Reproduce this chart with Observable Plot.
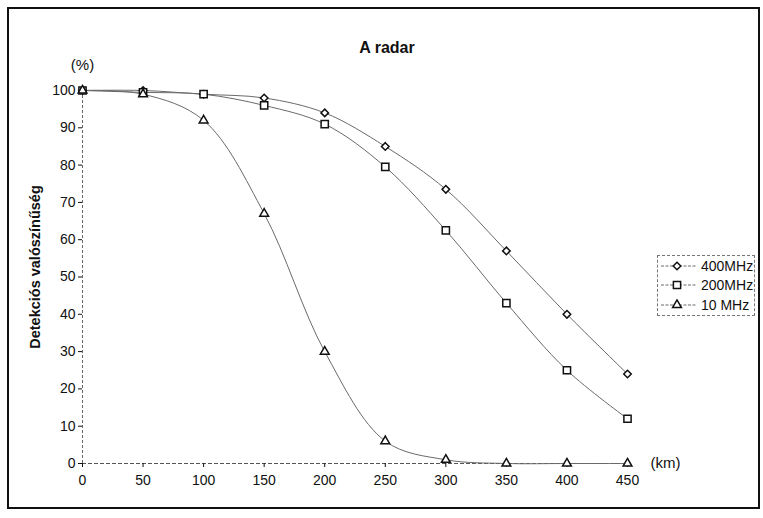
<!DOCTYPE html>
<html>
<head>
<meta charset="utf-8">
<script src="https://cdn.jsdelivr.net/npm/d3@7"></script>
<script src="https://cdn.jsdelivr.net/npm/@observablehq/plot@0.6"></script>
<style>
  body { margin: 0; background: #fff; }
  #chart { position: relative; width: 763px; height: 518px; font-family: "Liberation Sans", Arial, sans-serif; color: #111; }
  #chart > svg { position: absolute; left: 0; top: 0; }
  #frame { position: absolute; left: 7px; top: 7px; width: 753px; height: 502px; border: 2px solid #111; box-sizing: border-box; pointer-events: none; }
  #legend { position: absolute; left: 657px; top: 255px; width: 98px; height: 61px; border: 1px dashed #777; box-sizing: border-box; background: #fff; font-size: 14px; }
  #legend .row { display: flex; align-items: center; height: 19.5px; padding-left: 1px; }
  #legend svg { margin-right: 4px; }
</style>
</head>
<body>
<div id="chart">
  <div id="frame"></div>
  <div id="legend"></div>
</div>
<script>
// Distance from the radar (km)
const distances = [0, 50, 100, 150, 200, 250, 300, 350, 400, 450];
// Detection probability (%) per transmit frequency
const p400MHz = [100, 100, 99, 98, 94, 85, 73.5, 57, 40, 24];
const p200MHz = [100, 99.5, 99, 96, 91, 79.5, 62.5, 43, 25, 12];
const p10MHz  = [100, 99, 92, 67, 30, 6, 1, 0, 0, 0];

const seriesNames = ["400MHz", "200MHz", "10 MHz"];
const seriesValues = [p400MHz, p200MHz, p10MHz];
const seriesSymbols = ["diamond2", "square2", "triangle2"];
const legendSymbols = [d3.symbolDiamond2, d3.symbolSquare2, d3.symbolTriangle2];
const seriesR = [3.4, 4.6, 4.2];

const xTicks = d3.range(0, 451, 50);
const yTicks = d3.range(0, 101, 10);

const rows = seriesNames.flatMap((name, i) =>
  distances.map((d, j) => ({series: name, km: d, p: seriesValues[i][j]}))
);

const lineColor = "#6a6a6a";
const font = "'Liberation Sans', Arial, sans-serif";
const marks = [
  Plot.ruleY([0], {stroke: "#555", strokeDasharray: "4 2"}),
  Plot.ruleX([0], {stroke: "#666", strokeDasharray: "3 2"}),
  Plot.axisY({ticks: yTicks, tickSize: 4, tickPadding: 3, label: null, fontSize: 14}),
  Plot.axisX({ticks: xTicks, tickSize: 4, tickPadding: 8, label: null, fontSize: 14}),
];
seriesNames.forEach((name) => {
  const data = rows.filter(r => r.series === name);
  marks.push(Plot.line(data, {x: "km", y: "p", curve: "catmull-rom", stroke: lineColor, strokeWidth: 1}));
});
seriesNames.forEach((name, i) => {
  const data = rows.filter(r => r.series === name);
  marks.push(Plot.dot(data, {x: "km", y: "p", symbol: () => seriesSymbols[i], r: seriesR[i], stroke: "#111", strokeWidth: 1.5, fill: "white"}));
});
marks.push(
  Plot.text(["A radar"], {frameAnchor: "top", dx: 32, dy: -49, fontWeight: "bold", fontSize: 16}),
  Plot.text(["(%)"], {frameAnchor: "top-left", dx: 0, dy: -31, fontSize: 15, textAnchor: "middle"}),
  Plot.text(["(km)"], {frameAnchor: "bottom-right", dx: 23, dy: 4, fontSize: 15, textAnchor: "start"}),
  Plot.text(["Detekciós valószínűség"], {frameAnchor: "left", textAnchor: "middle", dx: -47, dy: -10, rotate: -90, fontWeight: "bold", fontSize: 14.5})
);

const plot = Plot.plot({
  width: 763,
  height: 518,
  marginLeft: 82,
  marginRight: 136,
  marginTop: 90,
  marginBottom: 55,
  x: {domain: [0, 450]},
  y: {domain: [0, 100]},
  symbol: {type: "identity"},
  style: {fontFamily: font, fontSize: "14px", color: "#111", background: "transparent"},
  marks
});
document.getElementById("chart").prepend(plot);

// Legend built from the same series definitions
const legend = d3.select("#legend");
seriesNames.forEach((name, i) => {
  const row = legend.append("div").attr("class", "row");
  const s = row.append("svg").attr("width", 38).attr("height", 12);
  s.append("line").attr("x1", 2).attr("x2", 37).attr("y1", 6).attr("y2", 6)
    .attr("stroke", lineColor).attr("stroke-width", 1).attr("stroke-dasharray", "3 1.5");
  const r = seriesR[i];
  s.append("path").attr("transform", "translate(18,6)")
    .attr("d", d3.symbol(legendSymbols[i], Math.PI * r * r)())
    .attr("fill", "white").attr("stroke", "#111").attr("stroke-width", 1.5);
  row.append("span").text(name);
});
</script>
</body>
</html>
